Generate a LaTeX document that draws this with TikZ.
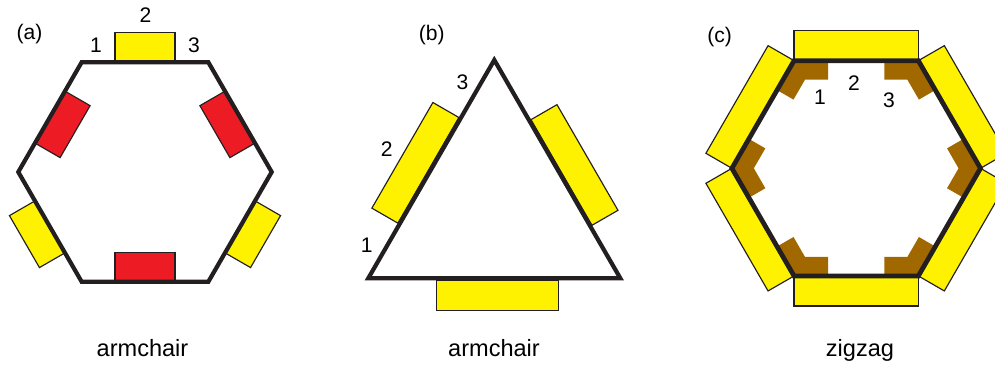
\documentclass[tikz,border=0pt]{standalone}
\usepackage{fontspec}
\setmainfont{Liberation Sans}
\definecolor{myyellow}{RGB}{255,242,0}
\definecolor{myred}{RGB}{237,28,36}
\definecolor{mybrown}{RGB}{161,104,0}
\definecolor{myblack}{RGB}{35,31,32}
\begin{document}
\begin{tikzpicture}[x=0.02cm,y=0.02cm,
  ybox/.style={fill=myyellow,draw=myblack,line width=0.65pt},
  rbox/.style={fill=myred,draw=myblack,line width=0.65pt},
  chev/.style={fill=mybrown},
  frame/.style={draw=myblack,line width=2.4pt,line join=miter},
  num/.style={font=\fontsize{12}{14}\selectfont,inner sep=0pt},
  bottomlabel/.style={font=\fontsize{13.4}{16}\selectfont,inner sep=0pt,anchor=base}]
\clip (0,0) rectangle (995,-369);
\fill[white] (0,0) rectangle (995,-369);

% ---------- (a) ----------
\begin{scope}[shift={(145,-172)}]
  \def\R{126.7}\def\A{109.7}
  \foreach \ang in {90,210,330}
    \draw[ybox,rotate=\ang] (\A,-30) rectangle ({\A+29.5},30);
  \foreach \ang in {270,150,30}
    \draw[rbox,rotate=\ang] ({\A-29},-30) rectangle (\A,30);
  \draw[frame] (0:\R) -- (60:\R) -- (120:\R) -- (180:\R) -- (240:\R) -- (300:\R) -- cycle;
\end{scope}
\node[num] (la) at (29.5,-34) {(a)};
\node[num] (a1) at (96,-45) {1};
\node[num] (a2) at (145.5,-15) {2};
\node[num] (a3) at (194,-45) {3};
\node[bottomlabel] (ta) at (142.5,-356.7) {armchair};

% ---------- (b) ----------
\begin{scope}[shift={(494.3,-205.5)}]
  \def\R{145.5}\def\A{72.7}
  \foreach \ang/\off in {270/3,150/2.5,30/-5}
    \draw[ybox,rotate=\ang] ({\A+2},{\off-61}) rectangle ({\A+32},{\off+61});
  \draw[frame] (90:\R) -- (210:\R) -- (330:\R) -- cycle;
\end{scope}
\node[num] (lb) at (431.7,-35) {(b)};
\node[num] (b3) at (462.5,-82.5) {3};
\node[num] (b2) at (386.7,-149.2) {2};
\node[num] (b1) at (366.7,-245) {1};
\node[bottomlabel] (tb) at (494,-356.7) {armchair};

% ---------- (c) ----------
\begin{scope}[shift={(856.2,-168.3)}]
  \def\R{124.3}\def\A{107.65}
  \foreach \ang in {30,90,150,210,270,330}
    \draw[ybox,rotate=\ang] (\A,-62.15) rectangle ({\A+30},62.15);
  \foreach \ang in {0,60,120,180,240,300}
    \fill[chev,rotate=\ang] (\R,0) -- ({\R-17},29.44) -- ({\R-33.45},19.94)
      -- ({\R-21.94},0) -- ({\R-33.45},-19.94) -- ({\R-17},-29.44) -- cycle;
  \draw[frame,line width=2.7pt] (0:\R) -- (60:\R) -- (120:\R) -- (180:\R) -- (240:\R) -- (300:\R) -- cycle;
\end{scope}
\node[num] (lc) at (719.7,-36.7) {(c)};
\node[num] (c1) at (820,-97) {1};
\node[num] (c2) at (854,-83.5) {2};
\node[num] (c3) at (889,-100) {3};
\node[bottomlabel] (tc) at (860,-356.7) {zigzag};
\end{tikzpicture}
\end{document}
